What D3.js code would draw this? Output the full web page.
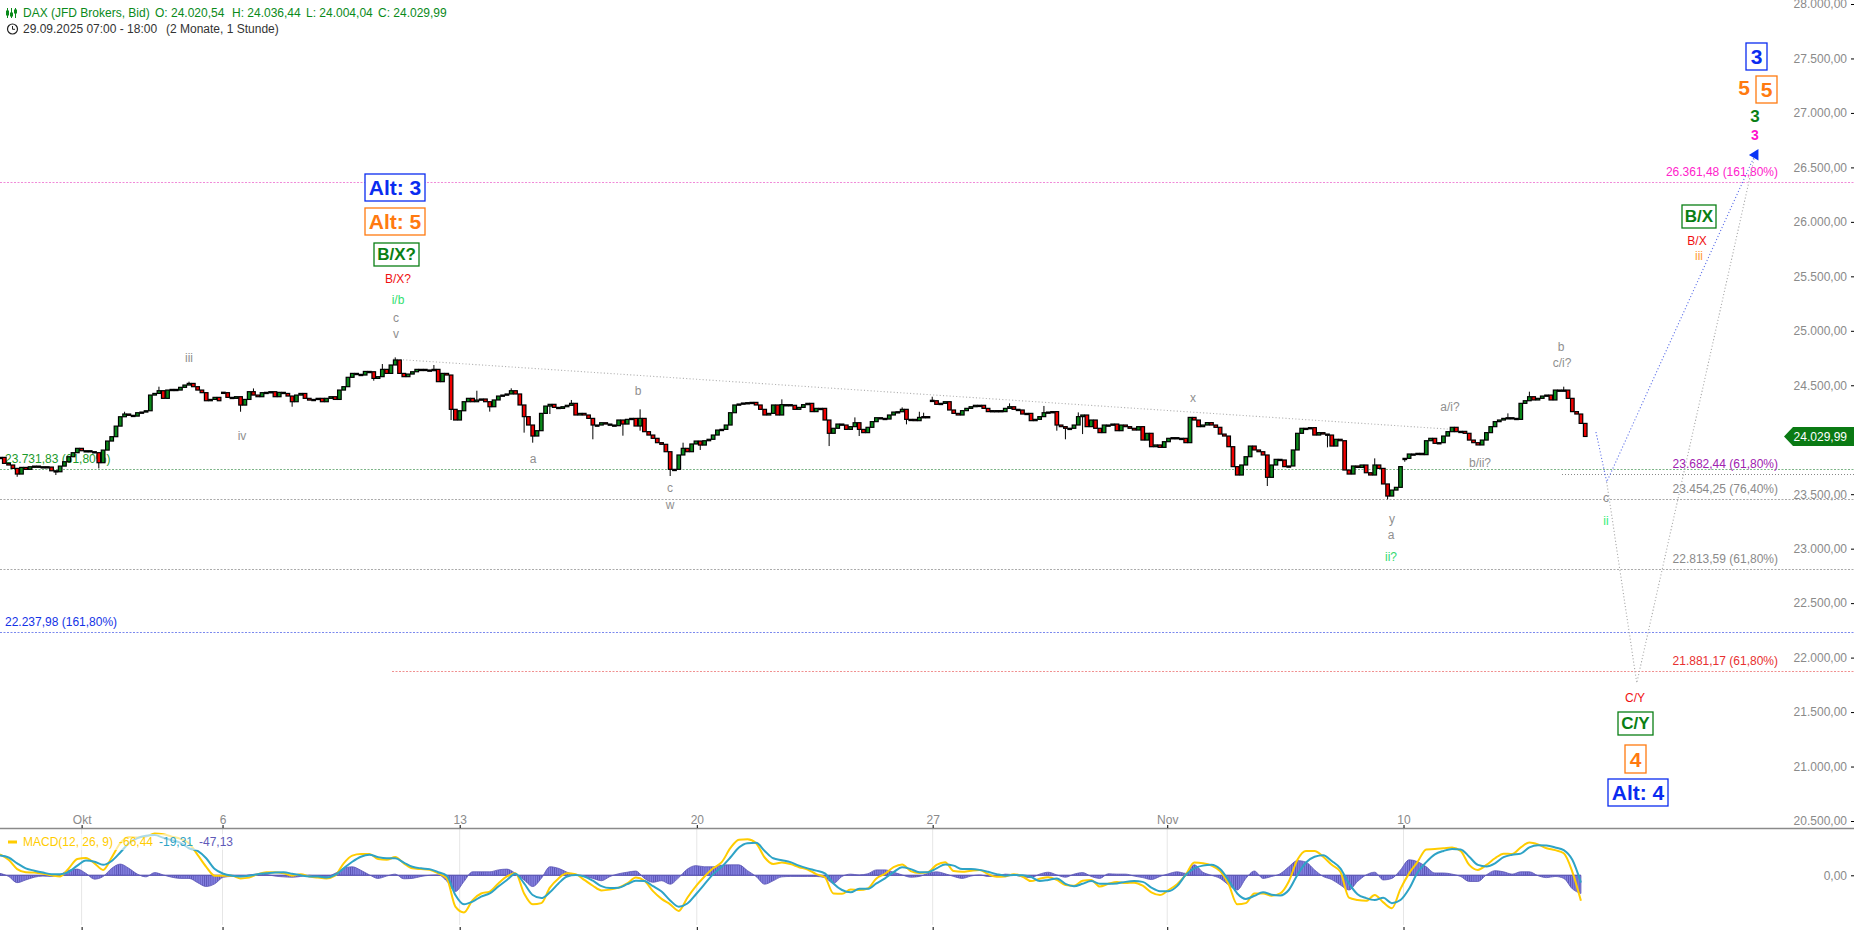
<!DOCTYPE html>
<html><head><meta charset="utf-8">
<style>html,body{margin:0;padding:0;background:#fff;overflow:hidden}svg{display:block;font-family:"Liberation Sans",Arial,sans-serif}</style>
<script src="https://cdn.jsdelivr.net/npm/d3@7"></script></head><body>
<script>
const closes=[23838,23783,23768,23737,23685,23746,23728,23752,23758,23752,23752,23749,23715,23706,23758,23798,23844,23881,23921,23899,23899,23890,23881,23789,23905,23988,24028,24125,24211,24236,24224,24217,24248,24254,24266,24410,24425,24450,24380,24456,24462,24456,24481,24502,24517,24487,24456,24432,24358,24370,24389,24358,24432,24389,24380,24395,24318,24370,24441,24410,24395,24432,24435,24441,24395,24435,24425,24401,24349,24410,24425,24380,24364,24370,24380,24349,24380,24395,24370,24456,24487,24573,24609,24600,24594,24627,24624,24563,24579,24646,24609,24686,24732,24609,24579,24603,24624,24646,24646,24640,24634,24646,24533,24609,24594,24279,24181,24266,24349,24380,24349,24364,
24374,24349,24303,24365,24401,24410,24420,24450,24420,24319,24212,24135,24034,24083,24242,24309,24325,24297,24288,24303,24316,24334,24227,24242,24227,24196,24135,24135,24156,24144,24135,24129,24181,24144,24187,24196,24126,24196,24074,24043,24013,23973,23958,23890,23728,23728,23860,23921,23890,23961,23988,23951,23991,24004,24043,24089,24095,24135,24248,24319,24328,24337,24340,24343,24319,24279,24227,24242,24319,24227,24322,24322,24316,24279,24297,24322,24334,24258,24288,24288,24181,24059,24105,24144,24135,24095,24120,24156,24095,24065,24114,24166,24202,24196,24190,24227,24254,24257,24279,24187,24187,24175,24205,24212,24212,24358,24325,24334,24349,24273,24242,24227,
24267,24288,24303,24316,24316,24288,24258,24267,24267,24258,24288,24303,24279,24273,24236,24242,24175,24187,24212,24248,24254,24258,24135,24120,24105,24105,24135,24212,24227,24120,24181,24105,24065,24135,24135,24144,24083,24135,24120,24105,24089,24120,23997,24059,23936,23952,23930,23982,24013,24019,24013,24013,23973,24205,24181,24120,24135,24157,24135,24114,24052,24034,23936,23753,23676,23768,23844,23942,23906,23890,23860,23655,23768,23820,23814,23753,23759,23906,24059,24105,24105,24111,24043,24065,24052,24043,23942,24004,23991,23722,23685,23759,23746,23768,23697,23676,23768,23737,23594,23483,23538,23563,23753,23829,23869,23869,23875,23863,23991,24013,23967,23973,24034,24074,24114,24074,24077,24059,23997,23973,23952,23997,24065,24120,24166,24181,24196,24202,24196,24187,24334,24358,24395,24365,24380,24401,24410,24365,24456,24450,24456,24380,24258,24236,24150,24030];
const gapBars=[52,217,327];
const lowBars=[4,13,23,56,68,87,105,114,122,124,128,138,145,149,156,163,193,200,211,246,248,252,295,309,323,327];
const lowVals=[23660,23676,23737,24257,24303,24542,24181,24258,24065,23973,24236,24004,24037,24083,23667,23906,23942,24034,24141,24083,24004,24052,23575,23930,23453,23798];
const highBars=[29,37,44,59,89,92,101,111,119,133,149,159,182,199,210,214,215,217,235,243,251,320,351,356,364];
const highVals=[24257,24487,24533,24471,24695,24756,24686,24450,24472,24365,24279,23973,24371,24205,24297,24257,24248,24395,24334,24310,24251,23829,24242,24441,24487];

const macdVals=[54,40,16,8,7,4,0,-3,18,42,45,31,14,46,83,99,98,100,108,106,100,94,83,53,22,-1,-1,-1,-8,-6,3,8,8,5,-1,3,-3,-6,-8,-1,31,51,55,55,42,40,47,31,18,16,14,5,-8,-81,-96,-64,-47,-42,-21,-3,5,-47,-75,-72,-32,-8,5,3,-12,-27,-39,-37,-32,-21,-6,
-14,-41,-61,-75,-92,-58,-28,-3,18,34,70,92,93,83,46,29,33,29,21,15,3,-5,-47,-48,-37,-38,-34,-8,4,21,28,11,6,8,27,34,11,9,12,14,3,-4,-3,3,-3,-15,-9,-5,-12,-25,-27,-14,-12,-29,-22,-17,
-20,-19,-27,-44,-51,-38,-23,1,33,31,25,11,-23,-75,-72,-47,-47,-53,-47,-16,40,63,63,48,27,9,-58,-64,-66,-51,-70,-85,-35,5,35,67,68,70,72,63,27,14,27,44,56,55,72,85,80,70,65,57,9,-66];
const signalVals=[51,46,31,18,12,7,3,3,9,25,38,35,27,37,59,83,96,102,104,97,91,84,70,63,44,16,4,-1,-3,-1,3,5,7,8,4,0,-3,-3,-6,1,18,35,48,53,47,44,44,33,22,18,16,8,-1,-51,-75,-68,-55,-47,-29,-12,4,-21,-51,-59,-44,-21,-3,1,-3,-14,-28,-33,-32,-23,-14,
-15,-28,-42,-65,-81,-73,-49,-23,3,22,46,72,83,84,63,44,39,34,25,18,12,5,-21,-38,-44,-35,-35,-21,-8,8,21,16,8,8,18,28,25,16,16,14,9,3,-1,1,0,-4,-15,-12,-8,-22,-28,-22,-15,-22,-22,-21,
-17,-15,-17,-32,-41,-41,-28,1,18,25,27,16,-13,-47,-61,-53,-44,-50,-52,-38,1,33,48,52,37,18,-21,-49,-59,-64,-58,-72,-64,-35,8,34,54,63,68,67,48,27,23,31,47,53,56,72,78,77,72,65,40,-19];
const histVals=[5,-3,-19,-12,-5,-2,-3,2,13,16,5,-10,-3,18,29,18,3,-4,7,1,-5,-8,-8,-19,-29,-22,-5,-3,-3,1,3,2,-2,-4,-5,-3,0,-2,-3,5,18,22,13,1,-8,-2,3,-9,-8,-3,0,1,-15,-42,-16,9,9,9,14,16,5,-12,-29,-8,22,18,8,1,-3,-8,-14,-3,4,8,11,
-8,-18,-14,-23,-6,16,25,22,22,26,27,27,12,-3,-23,-14,-4,-3,-3,-3,-3,-6,-21,-3,3,1,4,14,14,8,1,-5,-3,5,9,4,-3,-8,-2,1,-3,-3,3,1,-4,-6,3,8,1,-5,3,7,-3,-8,4,3,
3,-2,-6,-11,-3,4,9,5,27,8,0,-8,-25,-38,-8,11,-8,-3,4,22,38,34,14,-3,-11,-25,-38,-16,1,8,-12,-8,14,40,35,22,6,6,3,-3,-16,-16,1,12,9,3,9,9,-1,-6,-3,-8,-35,-47];

const priceTicks=[20500,21000,21500,22000,22500,23000,23500,24000,24500,25000,25500,26000,26500,27000,27500,28000];
const timeLabels=["Okt","6","13","20","27","Nov","10"];
const timeBars=[19,51.8,107,162.2,217.1,271.7,326.7];
const fibPrices=[26361.48,23731.83,23682.44,23454.25,22813.59,22237.98,21881.17];
const fibLabels=["26.361,48 (161,80%)","23.731,83 (61,80%)","23.682,44 (61,80%)","23.454,25 (76,40%)","22.813,59 (61,80%)","22.237,98 (161,80%)","21.881,17 (61,80%)"];
const trendBars=[91.5,337], trendPrices=[24740,24098];
const blueBars=[371.5,374,408.5], bluePrices=[24071,23612,26614];
const grayBars=[374,381,408.5], grayPrices=[23612,21767,26614];
const lastPrice=24029.99;

const W=1854,H=930,stepBars=2;
const x=d3.scaleLinear().domain([0,W/4.296]).range([0,W]);
const y=d3.scaleLinear().domain([20500,28000]).range([821,4]);
const yM=d3.scaleLinear().domain([-140,120]).range([875.3+140/2.585,875.3-120/2.585]);
const nf=d3.formatLocale({decimal:",",thousands:".",grouping:[3],currency:["",""]}).format(",.2f");
const svg=d3.select("body").append("svg").attr("width",W).attr("height",H);
const GRAY="#8a8a8a";
const defs=svg.append("defs");
const pat=defs.append("pattern").attr("id","comb").attr("patternUnits","userSpaceOnUse").attr("width",2.148).attr("height",10);
pat.append("rect").attr("width",2.148).attr("height",10).attr("fill","#8480e0");
pat.append("rect").attr("width",0.8).attr("height",10).attr("fill","#5a55b5");

// fib lines
const fibStyle=[
 {c:"#f08ad8",x0:0,lx:1778,a:"end",lc:"#ff22cc"},
 {c:"#7cb487",x0:0,lx:5,a:"start",lc:"#1a9a2a"},
 {c:"#888",x0:1562,lx:1778,a:"end",lc:"#a022b0"},
 {c:"#aaa",x0:0,lx:1778,a:"end",lc:GRAY},
 {c:"#aaa",x0:0,lx:1778,a:"end",lc:GRAY},
 {c:"#7a88ee",x0:0,lx:5,a:"start",lc:"#1433e6"},
 {c:"#f09090",x0:392,lx:1778,a:"end",lc:"#e83030"}];
fibPrices.forEach((p,i)=>{const s=fibStyle[i],yy=Math.round(y(p))+.5;
 svg.append("line").attr("x1",s.x0).attr("x2",W).attr("y1",yy).attr("y2",yy).attr("stroke",s.c).attr("stroke-dasharray",i===2?"1,2":"2,1.5");
 svg.append("text").attr("x",s.lx).attr("y",y(p)-6).attr("text-anchor",s.a).attr("font-size",12).attr("fill",s.lc).text(fibLabels[i]);
});

// wave lines
const ln=(bars,prices,c)=>svg.append("path").attr("fill","none").attr("stroke",c).attr("stroke-width",1.1).attr("stroke-dasharray","1.1,2.2")
 .attr("d",d3.line().x((d,i)=>x(bars[i])).y((d,i)=>y(prices[i]))(bars));
ln(trendBars,trendPrices,"#b0b0b0");
ln(grayBars,grayPrices,"#a8a8a8");
ln(blueBars,bluePrices,"#5a6ee8");
svg.append("path").attr("fill","#0a35f5").attr("d",`M${x(408.5)-6},${y(26614)}L${x(408.5)+3.5},${y(26614)-6}L${x(408.5)+3.5},${y(26614)+5.5}Z`);

// candles
const opens=closes.map((c,i)=>i===0?23838:gapBars.includes(i)?c+(closes[i+1]>c?-4:4):closes[i-1]);
const gw=svg.append("g").attr("stroke","#000").attr("stroke-width",1);
lowBars.forEach((b,i)=>gw.append("line").attr("x1",x(b)).attr("x2",x(b)).attr("y1",y(Math.min(opens[b],closes[b]))).attr("y2",y(lowVals[i])));
highBars.forEach((b,i)=>gw.append("line").attr("x1",x(b)).attr("x2",x(b)).attr("y1",y(Math.max(opens[b],closes[b]))).attr("y2",y(highVals[i])));
svg.append("g").selectAll("rect").data(closes).join("rect")
 .attr("x",(d,i)=>x(i)-1.8).attr("width",3.6)
 .attr("y",(d,i)=>y(Math.max(d,opens[i])))
 .attr("height",(d,i)=>Math.max(1.2,Math.abs(y(d)-y(opens[i]))))
 .attr("fill",(d,i)=>Math.abs(y(d)-y(opens[i]))<1.2?"#000":d>=opens[i]?"#0a8a1a":"#f00000")
 .attr("stroke","#000").attr("stroke-width",1.2);

// annotations
const lab=(t,cx,cy,c,s=12,w=400)=>svg.append("text").attr("x",cx).attr("y",cy).attr("text-anchor","middle").attr("dominant-baseline","central").attr("font-size",s).attr("font-weight",w).attr("fill",c).text(t);
const box=(t,x0,x1,y0,y1,c,s)=>{svg.append("rect").attr("x",x0).attr("y",y0).attr("width",x1-x0).attr("height",y1-y0).attr("fill","#fff").attr("stroke",c).attr("stroke-width",1.3);
 lab(t,(x0+x1)/2,(y0+y1)/2,c,s,700);};
[["iii",189,358],["iv",242,436],["c",396,318],["v",396,334],["a",533,459],["b",638,391],["c",670,488],["w",670,505],["x",1193,398],["a/i?",1450,407],["b/ii?",1480,463],["y",1392,519],["a",1391,535],["b",1561,347],["c/i?",1562,363],["c",1606,498]].forEach(d=>lab(d[0],d[1],d[2],"#8f8f8f"));
lab("i/b",398,300,"#33e070");lab("ii?",1391,557,"#33d870");lab("ii",1606,521,"#33ee77");
lab("B/X?",398,279,"#f01010");lab("B/X",1697,241,"#f01010");lab("C/Y",1635,698,"#f01010");lab("iii",1699,256,"#ff9933");
box("Alt: 3",365,425,174,201,"#0a2cf0",21);box("Alt: 5",365,425,208,235,"#ff7a10",21);box("B/X?",374,419,243,266,"#0a7f14",17);
box("B/X",1682,1716,205,228,"#0a7f14",17);box("3",1746,1767,43,70,"#0a2cf0",21);box("5",1756,1777,76,103,"#ff7a10",21);
lab("5",1744,87,"#ff7a10",21,700);lab("3",1755,116,"#0a7f14",17,700);lab("3",1755,135,"#ff10cc",14,700);
box("C/Y",1618,1653,712,735,"#0a7f14",17);box("4",1625,1646,745,773,"#ff7a10",21);box("Alt: 4",1608,1668,779,806,"#0a2cf0",21);

// MACD panel
const xm=(d,i)=>x(i*stepBars);
svg.append("g").selectAll("line").data(timeBars).join("line").attr("x1",d=>x(d)).attr("x2",d=>x(d)).attr("y1",829).attr("y2",925).attr("stroke","#e6e6e6");
svg.append("path").attr("fill","url(#comb)").attr("stroke","#5a55b5").attr("stroke-width",0.8)
 .attr("d",d3.area().x(xm).y0(yM(0)).y1(d=>yM(d)).curve(d3.curveMonotoneX)(histVals));
svg.append("line").attr("x1",0).attr("x2",x((histVals.length-1)*stepBars)).attr("y1",yM(0)).attr("y2",yM(0)).attr("stroke","#5a55b5").attr("stroke-width",1);
svg.append("path").attr("fill","none").attr("stroke","#ffcc00").attr("stroke-width",2)
 .attr("d",d3.line().x(xm).y(d=>yM(d)).curve(d3.curveMonotoneX)(macdVals));
svg.append("path").attr("fill","none").attr("stroke","#2ea3c6").attr("stroke-width",2)
 .attr("d",d3.line().x(xm).y(d=>yM(d)).curve(d3.curveMonotoneX)(signalVals));
svg.append("rect").attr("x",0).attr("y",834).attr("width",236).attr("height",16).attr("fill","#fff").attr("fill-opacity",.6);
svg.append("rect").attr("x",8).attr("y",840.5).attr("width",9).attr("height",3).attr("fill","#ffcc00");
[["MACD(12, 26, 9)",23,"#ffcc00"],["-66,44",119,"#ffcc00"],["-19,31",159,"#2ea3c6"],["-47,13",199,"#5f5ab8"]].forEach(d=>svg.append("text").attr("x",d[1]).attr("y",846).attr("font-size",12).attr("fill",d[2]).text(d[0]));

// separator & axes
svg.append("line").attr("x1",0).attr("x2",W).attr("y1",828.5).attr("y2",828.5).attr("stroke","#8a8a8a").attr("stroke-width",1.5);
const axB=svg.append("g").attr("transform","translate(0,828)").call(d3.axisTop(x).tickValues(timeBars).tickSize(3).tickFormat((d,i)=>timeLabels[i]));
axB.select(".domain").remove();axB.selectAll("line").attr("stroke","#000");
axB.selectAll("text").attr("font-size",12).attr("font-family","inherit").attr("fill",GRAY).attr("dy",0).attr("y",-4);
const axBot=svg.append("g").attr("transform","translate(0,930)").call(d3.axisTop(x).tickValues(timeBars).tickSize(3).tickFormat(""));
axBot.select(".domain").remove();axBot.selectAll("line").attr("stroke","#000");
const axR=svg.append("g").attr("transform",`translate(${W},0)`).call(d3.axisLeft(y).tickValues(priceTicks).tickSize(3).tickPadding(4).tickFormat(d=>nf(d)));
axR.select(".domain").remove();axR.selectAll("line").attr("stroke","#000");
axR.selectAll("text").attr("font-size",12).attr("font-family","inherit").attr("fill",GRAY);
const axM=svg.append("g").attr("transform",`translate(${W},0)`).call(d3.axisLeft(yM).tickValues([0]).tickSize(3).tickPadding(4).tickFormat(d=>nf(d)));
axM.select(".domain").remove();axM.selectAll("line").attr("stroke","#000");
axM.selectAll("text").attr("font-size",12).attr("font-family","inherit").attr("fill",GRAY);

// last price tag
const ty=y(lastPrice);
svg.append("path").attr("fill","#0a7a14").attr("d",`M1784,${ty}L1793,${ty-9.5}L${W},${ty-9.5}L${W},${ty+9.5}L1793,${ty+9.5}Z`);
svg.append("text").attr("x",1847).attr("y",ty+4.3).attr("text-anchor","end").attr("font-size",12).attr("fill","#fff").text(nf(lastPrice));

// header
const G="#0a8a1a";
[["DAX (JFD Brokers, Bid)",23],["O: 24.020,54",155],["H: 24.036,44",232],["L: 24.004,04",306],["C: 24.029,99",378]].forEach(d=>svg.append("text").attr("x",d[1]).attr("y",17).attr("font-size",12).attr("fill",G).text(d[0]));
[["29.09.2025 07:00 - 18:00",23],["(2 Monate, 1 Stunde)",166]].forEach(d=>svg.append("text").attr("x",d[1]).attr("y",33).attr("font-size",12).attr("fill","#333").text(d[0]));
const ic=svg.append("g").attr("stroke",G).attr("fill",G).attr("stroke-width",1);
[[7.5,8,18,11,15],[11.5,8,18,13,16],[15.5,8,18,10,13]].forEach(d=>{ic.append("line").attr("x1",d[0]).attr("x2",d[0]).attr("y1",d[1]).attr("y2",d[2]);ic.append("rect").attr("x",d[0]-1).attr("y",d[3]).attr("width",2).attr("height",d[4]-d[3]);});
svg.append("circle").attr("cx",12.5).attr("cy",29).attr("r",5).attr("fill","none").attr("stroke","#222").attr("stroke-width",1.2);
svg.append("path").attr("d","M12.5,26V29.3H15").attr("fill","none").attr("stroke","#222").attr("stroke-width",1);
</script></body></html>
